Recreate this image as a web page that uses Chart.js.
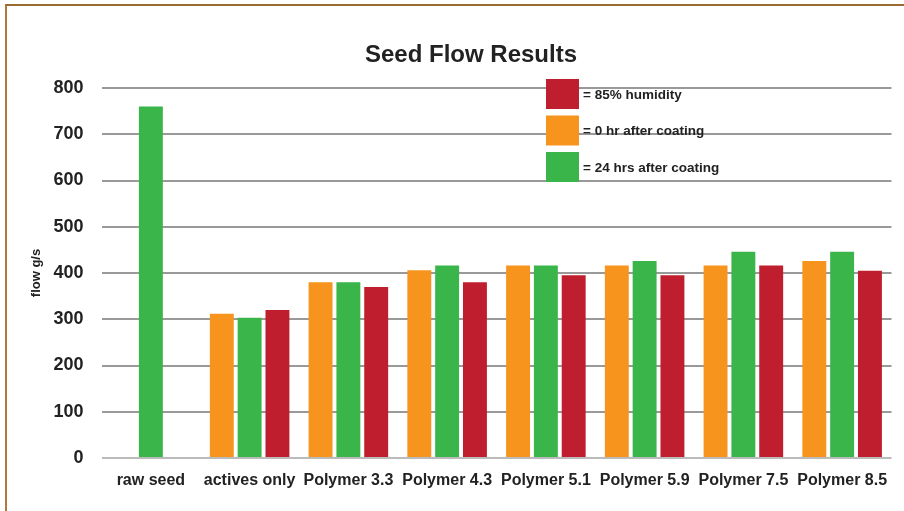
<!DOCTYPE html>
<html>
<head>
<meta charset="utf-8">
<script src="https://cdn.jsdelivr.net/npm/chart.js@4"></script>
<style>
    html, body { margin: 0; padding: 0; background: #fff; }
    #moldura {
        position: relative;
        width: 904px;
        height: 511px;
        overflow: hidden;
    }
    /* borda marrom só em cima e na esquerda, como no original */
    #borda {
        position: absolute;
        left: 5px; top: 4px; right: 0; bottom: 0;
        border-top: 2px solid #9b6a2f;
        border-left: 2px solid #b07a3a;
        pointer-events: none;
    }
</style>
</head>
<body>
<div id="moldura">
    <canvas id="graficoFluxo" width="904" height="511"></canvas>
    <div id="borda"></div>
</div>
<script>
// categorias do eixo x
const categorias = ['raw seed', 'actives only', 'Polymer 3.3', 'Polymer 4.3', 'Polymer 5.1', 'Polymer 5.9', 'Polymer 7.5', 'Polymer 8.5'];

// valores (g/s)
const zeroHora = [null, 312, 380, 406, 416, 416, 416, 426];
const vinteQuatroHoras = [760, 303, 380, 416, 416, 426, 446, 446];
const umidade85 = [null, 320, 370, 380, 395, 395, 416, 405];

// rótulos dos eixos e da legenda
const ticksY = [0, 100, 200, 300, 400, 500, 600, 700, 800];
const tituloGrafico = 'Seed Flow Results';
const tituloEixoY = 'flow g/s';
const nomesSeries = ['= 0 hr after coating', '= 24 hrs after coating', '= 85% humidity'];

// não tem fonte condensada instalada, então uso a Liberation Sans em negrito
const fonte = "'Liberation Sans', Arial, sans-serif";

// título e legenda desenhados à mão (o título no original não fica centralizado no canvas)
const tituloELegenda = {
    id: 'tituloELegenda',
    afterDraw(chart) {
        const ctx = chart.ctx;
        const area = chart.chartArea;
        ctx.save();

        // título
        ctx.font = 'bold 24px ' + fonte;
        ctx.fillStyle = '#222';
        ctx.textAlign = 'center';
        ctx.textBaseline = 'middle';
        ctx.fillText(tituloGrafico, 471, 55);

        // legenda com quadrados grandes
        const ordem = [2, 0, 1]; // umidade, 0 hr, 24 hrs
        ctx.font = 'bold 13.5px ' + fonte;
        ctx.textAlign = 'left';
        for (let i = 0; i < ordem.length; i++) {
            const ds = chart.data.datasets[ordem[i]];
            const x = 546;
            const y = area.top - 9 + i * 36.5;
            ctx.fillStyle = ds.backgroundColor;
            ctx.fillRect(x, y, 33, 30);
            ctx.fillStyle = '#222';
            ctx.fillText(ds.label, x + 37, y + 16);
        }
        ctx.restore();
    }
};

const dadosFluxo = {
    labels: categorias,
    datasets: [
        { label: nomesSeries[0], data: zeroHora, backgroundColor: '#f7941e' },
        { label: nomesSeries[1], data: vinteQuatroHoras, backgroundColor: '#3ab54a' },
        { label: nomesSeries[2], data: umidade85, backgroundColor: '#be1e2d' }
    ]
};

const configFluxo = {
    type: 'bar',
    data: dadosFluxo,
    options: {
        responsive: false,
        animation: false,
        categoryPercentage: 0.845,
        barPercentage: 0.86,
        layout: { padding: { left: 9.5, right: 12.5, top: 88, bottom: 0 } },
        plugins: {
            legend: { display: false },
            tooltip: { enabled: false },
            title: { display: false }
        },
        scales: {
            x: {
                grid: { display: false },
                border: { display: false },
                ticks: {
                    color: '#222',
                    padding: 5,
                    maxRotation: 0,
                    minRotation: 0,
                    autoSkip: false,
                    font: { family: fonte, size: 16, weight: 'bold' }
                },
                afterFit: (escala) => { escala.height = 53; }
            },
            y: {
                min: 0,
                max: 800,
                afterBuildTicks: (escala) => { escala.ticks = ticksY.map(v => ({ value: v })); },
                grid: {
                    // a linha do zero é um pouco mais clara no original
                    color: (c) => (c.tick && c.tick.value === 0 ? '#bbb' : '#999'),
                    lineWidth: 2,
                    drawTicks: false
                },
                border: { display: false },
                ticks: {
                    color: '#222',
                    padding: 18,
                    font: { family: fonte, size: 18, weight: 'bold' }
                },
                title: {
                    display: true,
                    text: tituloEixoY,
                    color: '#222',
                    font: { family: fonte, size: 13, weight: 'bold' },
                    padding: { top: 19.5, bottom: 0 }
                },
                afterFit: (escala) => { escala.width = 92; }
            }
        }
    },
    plugins: [tituloELegenda]
};

let meuGraficoFluxo = new Chart(document.getElementById('graficoFluxo'), configFluxo);
</script>
</body>
</html>
